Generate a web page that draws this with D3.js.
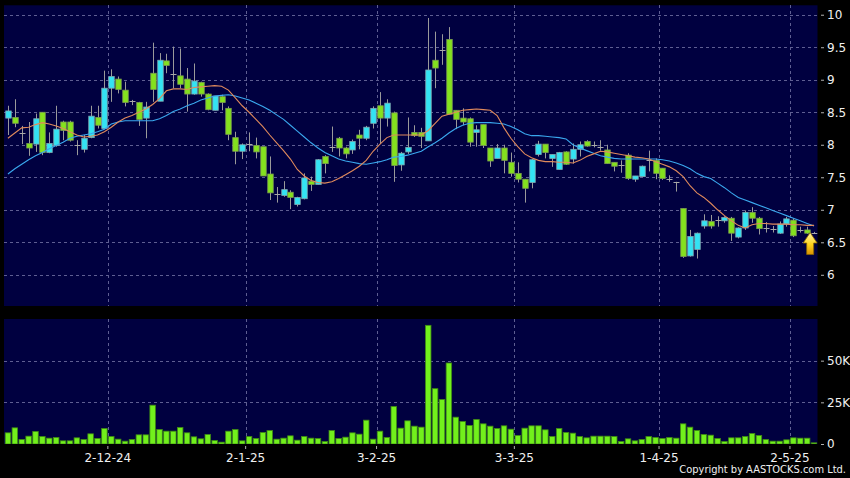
<!DOCTYPE html>
<html><head><meta charset="utf-8">
<script src="https://cdn.jsdelivr.net/npm/d3@7"></script>
<style>body{margin:0;background:#000;} svg{display:block;}</style>
</head><body><svg id="c" width="850" height="478"></svg>
<script>
const dates = [
"11-11-24","12-11-24","13-11-24","14-11-24","15-11-24","18-11-24","19-11-24","20-11-24","21-11-24","22-11-24","25-11-24","26-11-24","27-11-24","28-11-24","29-11-24",
"2-12-24","3-12-24","4-12-24","5-12-24","6-12-24","9-12-24","10-12-24","11-12-24","12-12-24","13-12-24","16-12-24","17-12-24","18-12-24","19-12-24","20-12-24","23-12-24","24-12-24","27-12-24","30-12-24","31-12-24",
"2-1-25","3-1-25","6-1-25","7-1-25","8-1-25","9-1-25","10-1-25","13-1-25","14-1-25","15-1-25","16-1-25","17-1-25","20-1-25","21-1-25","22-1-25","23-1-25","24-1-25","27-1-25","28-1-25",
"3-2-25","4-2-25","5-2-25","6-2-25","7-2-25","10-2-25","11-2-25","12-2-25","13-2-25","14-2-25","17-2-25","18-2-25","19-2-25","20-2-25","21-2-25","24-2-25","25-2-25","26-2-25","27-2-25","28-2-25",
"3-3-25","4-3-25","5-3-25","6-3-25","7-3-25","10-3-25","11-3-25","12-3-25","13-3-25","14-3-25","17-3-25","18-3-25","19-3-25","20-3-25","21-3-25","24-3-25","25-3-25","26-3-25","27-3-25","28-3-25","31-3-25",
"1-4-25","2-4-25","3-4-25","7-4-25","8-4-25","9-4-25","10-4-25","11-4-25","14-4-25","15-4-25","16-4-25","17-4-25","22-4-25","23-4-25","24-4-25","25-4-25","28-4-25","29-4-25","30-4-25",
"2-5-25","6-5-25","7-5-25","8-5-25"];

const open = [
8.41,8.42,8.18,8.02,8.01,8.50,7.88,7.99,8.35,8.35,
8.00,7.93,8.11,8.42,8.25,8.87,9.01,8.84,8.67,8.65,
8.41,9.10,8.67,9.29,9.09,9.06,9.01,8.78,8.96,8.78,
8.53,8.74,8.56,8.11,7.90,8.01,7.99,7.97,7.55,7.24,
7.22,7.27,7.08,7.17,7.44,7.39,7.82,7.97,8.10,7.95,
7.92,8.15,8.10,8.33,8.60,8.41,8.49,7.69,7.89,8.19,
8.19,8.06,9.30,9.45,9.62,8.53,8.41,8.40,8.19,8.31,
7.95,7.79,7.95,7.73,7.56,7.47,7.42,7.85,8.01,7.79,
7.62,7.89,7.78,7.93,8.05,8.00,7.97,7.92,7.73,7.69,
7.84,7.47,7.51,7.76,7.76,7.64,7.48,7.43,7.02,6.29,
6.39,6.75,6.82,6.84,6.83,6.87,6.58,6.72,6.96,6.87,
6.72,6.70,6.64,6.78,6.84,6.69,6.69,6.65];

const high = [
8.60,8.70,8.29,8.35,8.48,8.50,8.19,8.60,8.37,8.37,
8.07,8.15,8.60,8.60,9.14,9.16,9.05,8.97,8.69,8.66,
8.66,9.57,9.41,9.40,9.51,9.48,9.18,9.25,8.97,8.79,
8.75,8.77,8.59,8.20,8.02,8.19,8.11,7.97,7.82,7.35,
7.44,7.30,7.20,7.56,7.51,7.78,7.84,8.28,8.12,7.97,
8.08,8.23,8.29,8.59,8.81,8.70,8.51,7.89,8.42,8.30,
8.26,9.95,9.74,9.70,9.81,8.53,8.56,8.42,8.30,8.31,
7.95,8.01,8.00,7.88,7.73,7.47,7.78,8.06,8.01,7.85,
7.89,7.90,8.02,8.05,8.07,8.05,8.07,8.00,7.73,7.76,
7.87,7.52,7.68,7.91,7.79,7.64,7.53,7.43,7.02,6.69,
6.65,6.93,6.92,6.90,6.90,6.89,6.73,6.99,7.04,6.89,
6.81,6.75,6.82,6.89,6.87,6.74,6.74,6.66];

const low = [
8.15,8.27,8.01,7.83,7.89,7.84,7.87,7.97,8.07,8.05,
7.84,7.88,8.10,8.25,8.25,8.66,8.79,8.59,8.61,8.29,
8.10,8.66,8.67,9.10,8.87,8.87,8.51,8.77,8.74,8.53,
8.53,8.53,8.07,7.70,7.78,7.90,7.79,7.52,7.15,7.11,
7.20,7.01,7.05,7.16,7.29,7.39,7.56,7.89,7.82,7.79,
7.86,7.93,8.07,8.25,8.01,8.28,7.43,7.60,7.86,8.12,
7.95,8.06,8.87,9.23,8.47,8.24,8.30,7.97,7.97,7.95,
7.66,7.79,7.56,7.51,7.42,7.11,7.33,7.82,7.79,7.66,
7.62,7.69,7.71,7.82,7.97,7.96,7.91,7.71,7.59,7.57,
7.46,7.43,7.51,7.59,7.47,7.46,7.43,7.28,6.26,6.28,
6.25,6.71,6.71,6.74,6.80,6.52,6.56,6.69,6.80,6.62,
6.65,6.65,6.63,6.74,6.58,6.65,6.63,6.64];

const close = [
8.52,8.33,8.18,7.95,8.40,7.88,8.02,8.24,8.22,8.07,
8.00,8.10,8.44,8.30,8.87,9.05,8.85,8.65,8.67,8.39,
8.58,8.85,9.30,9.22,9.09,8.93,8.78,8.98,8.78,8.54,
8.75,8.65,8.16,7.90,8.00,8.01,7.89,7.52,7.26,7.24,
7.31,7.19,7.19,7.49,7.39,7.77,7.71,7.97,7.95,7.86,
8.05,8.10,8.27,8.56,8.41,8.64,7.68,7.87,7.96,8.14,
8.13,9.15,9.18,9.45,8.47,8.39,8.35,8.04,8.23,7.99,
7.75,7.95,7.76,7.56,7.47,7.33,7.77,8.01,7.88,7.85,
7.88,7.70,7.93,8.00,7.98,8.00,7.97,7.71,7.67,7.69,
7.48,7.52,7.67,7.76,7.56,7.48,7.48,7.43,6.28,6.59,
6.64,6.83,6.75,6.84,6.88,6.64,6.72,6.96,6.87,6.71,
6.72,6.70,6.78,6.86,6.60,6.69,6.64,6.65];

const volume = [
6700,9700,2700,4700,7500,4500,3500,3900,1900,1900,
3700,2700,6100,3300,9300,4500,2900,1700,2700,5500,
5500,23300,8700,7700,7700,9900,6700,4300,3100,5700,
2100,1100,7700,8700,1900,4500,3300,6900,8100,2900,
3500,4900,2300,4500,3500,3300,1500,8100,3300,4100,
6700,5900,14300,2900,7700,3900,22500,9500,13900,10700,
10100,71200,33200,26700,48600,16100,13500,11100,14700,12100,
10700,9300,10900,8900,5100,9500,10900,10900,8500,4500,
9300,6900,6500,4500,3700,4700,4700,4700,4500,1500,
3100,1900,2700,4500,3900,3300,3900,3500,12100,10100,
8100,5700,5300,3300,1500,3700,3700,4500,6300,5100,
2700,1700,1700,2500,3700,3500,3500,700];

const ma10 = [
8.10,8.18,8.26,8.27,8.31,8.34,8.32,8.29,8.25,8.20,
8.15,8.12,8.13,8.15,8.20,8.27,8.35,8.41,8.45,8.50,
8.55,8.62,8.71,8.83,8.86,8.86,8.85,8.88,8.89,8.90,
8.91,8.90,8.84,8.72,8.60,8.50,8.39,8.28,8.15,8.03,
7.91,7.78,7.62,7.52,7.45,7.42,7.41,7.43,7.48,7.54,
7.60,7.67,7.76,7.90,8.01,8.11,8.15,8.15,8.15,8.15,
8.15,8.22,8.33,8.44,8.47,8.50,8.53,8.54,8.55,8.54,
8.53,8.45,8.26,8.10,7.97,7.86,7.80,7.76,7.74,7.74,
7.73,7.73,7.72,7.76,7.82,7.86,7.90,7.89,7.87,7.85,
7.83,7.81,7.80,7.78,7.74,7.70,7.66,7.60,7.51,7.37,
7.26,7.19,7.10,7.00,6.91,6.83,6.76,6.72,6.77,6.79,
6.79,6.78,6.78,6.78,6.77,6.77,6.76,6.76];

const ma20 = [
7.55,7.63,7.70,7.77,7.83,7.88,7.94,7.99,8.04,8.10,
8.13,8.15,8.17,8.20,8.24,8.32,8.35,8.37,8.37,8.37,
8.37,8.37,8.40,8.45,8.51,8.55,8.60,8.64,8.69,8.72,
8.75,8.76,8.77,8.75,8.72,8.69,8.64,8.59,8.53,8.46,
8.39,8.30,8.21,8.12,8.03,7.95,7.88,7.83,7.78,7.75,
7.73,7.71,7.70,7.72,7.74,7.77,7.81,7.82,7.84,7.87,
7.90,7.97,8.03,8.10,8.18,8.25,8.30,8.33,8.34,8.34,
8.34,8.33,8.32,8.28,8.23,8.17,8.14,8.14,8.13,8.12,
8.11,8.09,8.00,7.95,7.91,7.87,7.83,7.81,7.79,7.78,
7.78,7.78,7.78,7.78,7.78,7.77,7.75,7.72,7.68,7.63,
7.56,7.51,7.48,7.41,7.34,7.26,7.19,7.15,7.11,7.07,
7.03,6.99,6.95,6.91,6.87,6.83,6.79,6.75];

const priceTicks = [6, 6.5, 7, 7.5, 8, 8.5, 9, 9.5, 10];
const volumeTicks = [0, 25000, 50000];
const dateTicks = ["2-12-24", "2-1-25", "3-2-25", "3-3-25", "1-4-25", "2-5-25"];

const FONT = '"DejaVu Sans", "Noto Sans", sans-serif';
const svg = d3.select('#c');
svg.append('rect').attr('width', 850).attr('height', 478).attr('fill', '#000');

const plotL = 4, plotR = 817.5;
const mainT = 5.3, mainB = 306;
const volT = 319, volB = 444;

const x = d3.scaleBand().domain(dates).range([4.5, 817.5]).padding(0);
const cx = d => x(d) + x.bandwidth() / 2;
const y = d3.scaleLinear().domain([5.52, 10.145]).range([mainB, mainT]);
const yv = d3.scaleLinear().domain([0, 75000]).range([volB, volT]);

const bg = '#000040';
const gridColor = '#5e5e92';
svg.append('rect').attr('x', plotL).attr('y', mainT).attr('width', plotR - plotL).attr('height', mainB - mainT).attr('fill', bg);
svg.append('rect').attr('x', plotL).attr('y', volT).attr('width', plotR - plotL).attr('height', volB - volT).attr('fill', bg);

const defs = svg.append('defs');
defs.append('clipPath').attr('id', 'clipMain').append('rect').attr('x', plotL).attr('y', mainT).attr('width', plotR - plotL).attr('height', mainB - mainT);
defs.append('clipPath').attr('id', 'clipVol').append('rect').attr('x', plotL).attr('y', volT).attr('width', plotR - plotL).attr('height', volB - volT);
const grad = defs.append('linearGradient').attr('id', 'gold').attr('x1', 0).attr('y1', 0).attr('x2', 0).attr('y2', 1);
grad.append('stop').attr('offset', '0%').attr('stop-color', '#fff6a8');
grad.append('stop').attr('offset', '55%').attr('stop-color', '#ffd21a');
grad.append('stop').attr('offset', '100%').attr('stop-color', '#d89000');

// grids
const grid = svg.append('g').attr('stroke', gridColor).attr('stroke-width', 1).attr('stroke-dasharray', '3,3').attr('shape-rendering', 'crispEdges');
priceTicks.forEach(t => grid.append('line').attr('x1', plotL).attr('x2', plotR).attr('y1', Math.round(y(t)) + 0.5).attr('y2', Math.round(y(t)) + 0.5));
volumeTicks.filter(t => t > 0).forEach(t => grid.append('line').attr('x1', plotL).attr('x2', plotR).attr('y1', Math.round(yv(t)) + 0.5).attr('y2', Math.round(yv(t)) + 0.5));
dateTicks.forEach(d => {
  const gx = Math.round(x(d)) + 0.5;
  grid.append('line').attr('x1', gx).attr('x2', gx).attr('y1', mainT).attr('y2', mainB);
  grid.append('line').attr('x1', gx).attr('x2', gx).attr('y1', volT).attr('y2', volB);
});

// candles
const idx = d3.range(dates.length);
const cyan = '#33e3f3', green = '#84e11e', gray = '#a8a8a8';
const cg = svg.append('g').attr('clip-path', 'url(#clipMain)');
const bw = 5.5;
idx.forEach(i => {
  const xc = Math.round(cx(dates[i])) + 0.5;
  const o = open[i], c = close[i];
  const col = c > o ? cyan : (c < o ? green : gray);
  cg.append('line').attr('x1', xc).attr('x2', xc).attr('y1', y(high[i])).attr('y2', y(low[i]))
    .attr('stroke', '#9a9a9a').attr('stroke-width', 1);
  if (c === o) {
    cg.append('line').attr('x1', xc - 3).attr('x2', xc + 3).attr('y1', Math.round(y(o)) + 0.5).attr('y2', Math.round(y(o)) + 0.5)
      .attr('stroke', gray).attr('stroke-width', 1.2);
  } else {
    const top = y(Math.max(o, c)), bot = y(Math.min(o, c));
    cg.append('rect').attr('x', xc - bw / 2).attr('y', top).attr('width', bw).attr('height', Math.max(1.5, bot - top))
      .attr('fill', col).attr('stroke', c > o ? '#7fa8b0' : '#7a9a50').attr('stroke-width', 0.8);
  }
});

// moving averages
const line = d3.line().x((d, i) => cx(dates[i])).y(d => y(d));
cg.append('path').datum(ma20).attr('d', line).attr('fill', 'none').attr('stroke', '#3aa8ee').attr('stroke-width', 1.1);
cg.append('path').datum(ma10).attr('d', line).attr('fill', 'none').attr('stroke', '#e08a5c').attr('stroke-width', 1.1);

// volume bars
const vg = svg.append('g').attr('clip-path', 'url(#clipVol)');
vg.selectAll('rect').data(idx).join('rect')
  .attr('x', i => cx(dates[i]) - bw / 2)
  .attr('y', i => yv(volume[i]))
  .attr('width', bw)
  .attr('height', i => yv(0) - yv(volume[i]))
  .attr('fill', '#72f01c').attr('stroke', '#3f8a14').attr('stroke-width', 0.8);

// last price arrow
const last = dates.length - 1;
const ax = cx(dates[last - 1]) + 3, ay = y(close[last]);
svg.append('path')
  .attr('d', `M${ax},${ay} L${ax + 7},${ay + 10.5} L${ax + 3.5},${ay + 10.5} L${ax + 3.5},${ay + 22} L${ax - 3.5},${ay + 22} L${ax - 3.5},${ay + 10.5} L${ax - 7},${ay + 10.5} Z`)
  .attr('fill', 'url(#gold)').attr('stroke', '#8a6400').attr('stroke-width', 0.8);

// axes
function styleAxis(g) {
  g.select('.domain').remove();
  g.attr('font-family', FONT).attr('font-size', 12);
  g.selectAll('.tick line').attr('stroke', '#b0b0b0');
  g.selectAll('.tick text').attr('fill', '#f0f0f0');
}
svg.append('g').attr('transform', 'translate(821,0)')
  .call(d3.axisRight(y).tickValues(priceTicks).tickSize(3).tickPadding(3).tickFormat(d => String(d)))
  .call(styleAxis);
svg.append('g').attr('transform', 'translate(821,0)')
  .call(d3.axisRight(yv).tickValues(volumeTicks).tickSize(3).tickPadding(3).tickFormat(d => d === 0 ? '0' : (d / 1000) + 'K'))
  .call(styleAxis);
svg.append('g').attr('transform', `translate(${-x.bandwidth() / 2},446)`)
  .call(d3.axisBottom(x).tickValues(dateTicks).tickSize(3).tickPadding(4))
  .call(styleAxis);

svg.append('text').attr('x', 846).attr('y', 473).attr('text-anchor', 'end')
  .attr('font-family', '"DejaVu Sans Condensed", "DejaVu Sans", sans-serif')
  .attr('font-stretch', 'condensed').attr('font-size', 11)
  .attr('fill', '#f0f0f0').text('Copyright by AASTOCKS.com Ltd.');
</script>
</body></html>
